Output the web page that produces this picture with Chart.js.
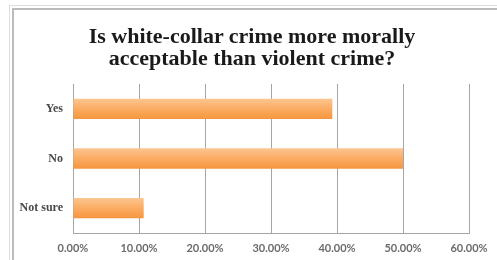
<!DOCTYPE html>
<html>
<head>
<meta charset="utf-8">
<script src="https://cdn.jsdelivr.net/npm/chart.js@4"></script>
<style>
  html, body { margin: 0; padding: 0; background: #fff; }
  #wrap { position: relative; width: 497px; height: 260px; overflow: hidden; }
  #outer { position: absolute; left: 9px; top: 5px; right: -5px; bottom: -5px; border-left: 1px solid #ddd; border-top: 1px solid #ddd; }
  #inner { position: absolute; left: 12px; top: 8px; right: -5px; bottom: -5px; border-left: 2px solid #bbb; border-top: 2px solid #bbb; }
  #title { position: absolute; left: 7px; width: 490px; top: 25px; text-align: center;
           font: bold 22px/22px 'Liberation Serif', serif; color: #1a1a1a; }
  canvas { position: absolute; left: 0; top: 0; }
</style>
</head>
<body>
<div id="wrap">
  <div id="outer"></div>
  <div id="inner"></div>
  <canvas id="chart" width="497" height="260"></canvas>
  <div id="title"></div>
</div>
<script>
const titleLines = ['Is white-collar crime more morally', 'acceptable than violent crime?'];
const categories = ['Yes', 'No', 'Not sure'];
const shares = [39.29, 50.0, 10.71];
const xTicks = [0, 10, 20, 30, 40, 50, 60];

document.getElementById('title').innerHTML = titleLines.join('<br>');

const BAR_HALF = 10;

// vertical orange shading for each bar, lighter on top
function barFill(c) {
    const chart = c.chart;
    const yScale = chart.scales.y;
    if (!yScale || c.dataIndex === undefined) return '#fba95c';
    const mid = yScale.getPixelForValue(c.dataIndex);
    if (!isFinite(mid)) return '#fba95c';
    const g = chart.ctx.createLinearGradient(0, mid - BAR_HALF, 0, mid + BAR_HALF);
    g.addColorStop(0, '#fdc590');
    g.addColorStop(0.5, '#fbac62');
    g.addColorStop(1, '#f6963f');
    return g;
}

const ctx = document.getElementById('chart').getContext('2d');

new Chart(ctx, {
    type: 'bar',
    data: {
        labels: categories,
        datasets: [{
            data: shares,
            backgroundColor: barFill,
            borderWidth: 0,
            barPercentage: 0.5,
            categoryPercentage: 0.82
        }]
    },
    options: {
        indexAxis: 'y',
        responsive: false,
        animation: false,
        layout: { padding: { left: 14, right: 28, top: 84, bottom: 0 } },
        plugins: {
            legend: { display: false },
            tooltip: { enabled: false }
        },
        scales: {
            x: {
                min: 0,
                max: 60,
                afterBuildTicks: axis => { axis.ticks = xTicks.map(v => ({ value: v })); },
                afterFit: axis => { axis.height = 27; },
                grid: { color: '#a6a6a6', lineWidth: 1, drawTicks: false },
                border: { color: '#a6a6a6' },
                ticks: {
                    padding: 9,
                    color: '#6b6b6b',
                    font: { family: 'Lato', size: 11, weight: 'bold' },
                    callback: v => v.toFixed(2) + '%'
                }
            },
            y: {
                afterFit: axis => { axis.width = 59; },
                grid: { display: false, drawTicks: false },
                border: { color: '#a6a6a6' },
                ticks: {
                    padding: 10,
                    color: '#4a4a4a',
                    font: { family: 'Liberation Serif', size: 12, weight: 'bold' }
                }
            }
        }
    }
});
</script>
</body>
</html>
